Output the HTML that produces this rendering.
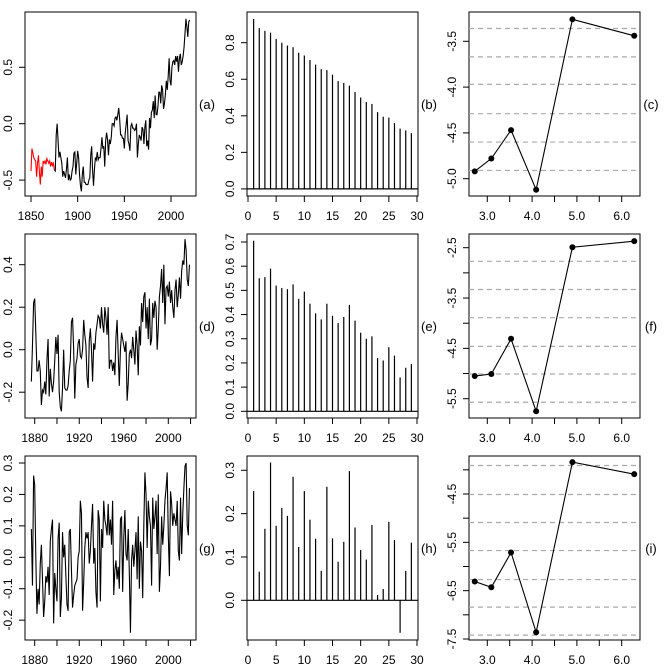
<!DOCTYPE html>
<html><head><meta charset="utf-8">
<style>
html,body{margin:0;padding:0;background:#fff;}
svg{display:block;font-family:"Liberation Sans",Arial,sans-serif;}
</style></head>
<body>
<svg id="fig" width="666" height="665" viewBox="0 0 666 665" xmlns="http://www.w3.org/2000/svg"></svg>
<script>
// ---- data ----
const aRedYears=[1850,1875];
const aRed=[-0.42,-0.22,-0.26,-0.30,-0.32,-0.33,-0.47,-0.35,-0.28,-0.43,-0.54,-0.38,-0.47,-0.33,-0.35,-0.33,-0.36,-0.31,-0.33,-0.35,-0.33,-0.38,-0.34,-0.37,-0.35,-0.41];
const aBlackStart=1876;
const aBlack=[-0.42,-0.10,0.00,-0.15,-0.30,-0.25,-0.30,-0.35,-0.47,-0.42,-0.45,-0.48,-0.40,-0.30,-0.50,-0.45,-0.50,-0.49,-0.42,-0.38,-0.26,-0.25,-0.45,-0.35,-0.24,-0.30,-0.45,-0.55,-0.60,-0.45,-0.38,-0.52,-0.52,-0.54,-0.54,-0.54,-0.50,-0.48,-0.28,-0.20,-0.42,-0.55,-0.40,-0.30,-0.32,-0.25,-0.32,-0.30,-0.30,-0.22,-0.12,-0.22,-0.20,-0.38,-0.15,-0.08,-0.14,-0.28,-0.14,-0.18,-0.12,0.00,0.00,-0.02,0.05,0.06,0.03,0.08,0.14,0.04,-0.10,-0.10,-0.13,-0.13,-0.22,-0.08,0.00,0.08,-0.15,-0.18,-0.24,-0.02,0.00,-0.04,-0.04,-0.06,-0.05,0.00,-0.30,-0.18,-0.10,-0.12,-0.15,-0.03,-0.05,-0.18,-0.03,0.03,-0.20,-0.15,-0.23,0.05,-0.04,0.10,0.12,0.20,0.05,0.25,0.08,0.08,0.15,0.28,0.28,0.18,0.34,0.30,0.13,0.18,0.26,0.38,0.30,0.42,0.58,0.38,0.34,0.50,0.55,0.56,0.52,0.60,0.55,0.60,0.46,0.58,0.62,0.52,0.55,0.60,0.68,0.80,0.93,0.86,0.77,0.90,0.92];
const dStart=1877;
const dVals=[-0.15,0.02,0.22,0.24,0.08,-0.10,-0.10,-0.05,-0.10,-0.26,-0.19,-0.20,-0.15,-0.21,-0.05,0.05,-0.22,-0.09,-0.16,-0.20,-0.15,-0.05,0.06,-0.02,0.07,-0.20,-0.27,-0.29,-0.18,0.00,-0.18,-0.19,-0.19,-0.17,-0.10,-0.05,0.13,0.15,0.00,-0.23,-0.07,-0.04,0.03,0.05,-0.03,-0.04,0.00,0.14,0.07,0.02,-0.13,-0.18,0.04,0.10,0.00,-0.15,0.03,0.00,0.08,0.12,0.16,0.15,0.10,0.20,0.12,0.08,0.20,0.15,0.07,0.20,-0.09,-0.05,-0.05,-0.10,-0.06,-0.12,0.06,0.14,-0.02,-0.17,0.00,0.08,0.05,0.02,-0.01,0.04,-0.24,-0.16,-0.02,0.00,-0.04,0.06,0.00,-0.07,0.09,0.02,-0.12,0.11,0.02,0.22,0.13,0.25,0.27,0.10,0.20,0.05,0.24,0.02,0.05,0.22,0.15,0.23,0.20,0.00,0.10,0.25,0.30,0.38,0.22,0.40,0.12,0.29,0.30,0.25,0.32,0.22,0.28,0.20,0.15,0.28,0.33,0.20,0.26,0.34,0.24,0.37,0.42,0.40,0.52,0.47,0.33,0.30,0.40];
const gStart=1877;
const gVals=[0.09,-0.09,0.26,0.23,0.00,-0.18,-0.10,-0.15,-0.02,0.04,-0.07,-0.19,-0.14,-0.06,-0.08,-0.03,-0.12,0.05,0.09,0.12,-0.21,-0.05,-0.10,-0.14,0.06,0.11,-0.19,-0.13,0.08,0.00,0.04,-0.06,-0.15,-0.17,0.08,0.09,-0.04,-0.16,-0.12,-0.09,-0.08,-0.07,0.00,0.02,0.18,0.14,-0.17,-0.08,0.03,0.08,0.06,0.08,-0.02,0.02,0.10,0.17,-0.02,0.03,-0.11,-0.16,0.15,0.12,-0.14,0.09,0.03,0.18,0.12,0.10,0.07,0.17,0.07,0.12,0.04,0.18,-0.12,-0.04,-0.01,-0.07,-0.03,-0.10,0.12,0.13,-0.11,0.06,0.15,0.01,-0.01,0.09,-0.05,-0.24,-0.01,0.04,-0.03,0.02,0.08,-0.07,0.13,-0.10,0.05,0.02,-0.13,0.10,0.27,0.20,0.03,0.18,0.13,0.10,-0.09,0.19,0.09,0.13,0.18,0.01,0.20,-0.11,-0.03,0.13,0.04,0.10,0.18,0.22,0.27,0.07,-0.06,0.21,0.17,0.10,0.14,0.12,0.10,0.18,0.02,-0.01,0.19,0.01,0.14,0.22,0.29,0.30,0.10,0.07,0.22];
const bAcf=[0.93,0.88,0.865,0.855,0.82,0.80,0.785,0.775,0.745,0.73,0.705,0.68,0.655,0.65,0.625,0.59,0.58,0.565,0.53,0.50,0.475,0.465,0.42,0.395,0.39,0.36,0.33,0.32,0.305];
const eAcf=[0.705,0.55,0.555,0.59,0.52,0.51,0.505,0.525,0.465,0.495,0.445,0.405,0.38,0.445,0.395,0.365,0.39,0.44,0.375,0.325,0.30,0.31,0.22,0.21,0.265,0.23,0.14,0.18,0.195];
const hAcf=[0.252,0.066,0.165,0.318,0.172,0.213,0.195,0.285,0.123,0.252,0.186,0.142,0.068,0.262,0.143,0.089,0.135,0.298,0.168,0.116,0.094,0.174,0.012,0.026,0.181,0.139,-0.075,0.068,0.133];
const pX=[2.72,3.09,3.53,4.09,4.90,6.28];
const cY=[-4.92,-4.78,-4.47,-5.12,-3.26,-3.44];
const fY=[-5.05,-5.01,-4.31,-5.75,-2.49,-2.37];
const iY=[-6.31,-6.43,-5.71,-7.36,-3.84,-4.09];
const cDash=[-3.36,-3.67,-3.97,-4.29,-4.60,-4.91];
const fDash=[-2.77,-3.33,-3.89,-4.46,-5.01,-5.57];
const iDash=[-3.91,-4.51,-5.09,-5.67,-6.27,-6.84,-7.42];
const cTicks=[-5,-4.5,-4,-3.5], cLabels=["-5.0","-4.5","-4.0","-3.5"];
const fTicks=[-5.5,-5,-4.5,-4,-3.5,-3,-2.5], fLabels=["-5.5","","-4.5","","-3.5","","-2.5"];
const iTicks=[-7.5,-7,-6.5,-6,-5.5,-5,-4.5,-4], iLabels=["-7.5","","-6.5","","-5.5","","-4.5",""];

// ---- helpers ----
const NS="http://www.w3.org/2000/svg";
const fig=document.getElementById('fig');
function el(tag,attrs,parent){const e=document.createElementNS(NS,tag);for(const k in attrs)e.setAttribute(k,attrs[k]);(parent||fig).appendChild(e);return e;}
function lin(v0,p0,v1,p1){return v=>p0+(v-v0)*(p1-p0)/(v1-v0);}
function panel(name,col,row){
  const ox=col*222, oy=[0,222,444][row];
  const g=el('g',{});
  
  
  const box={l:ox+25,r:ox+196,t:oy+12,b:oy+196};
  const r=el('rect',{x:box.l,y:box.t,width:box.r-box.l,height:box.b-box.t,fill:'none',stroke:'#000','stroke-width':1},g);
  
  
  return {g,box,ox,oy};
}
function xAxis(p,sx,ticks,labels){
  const ax=el('g',{},p.g);
  
  
  ticks.forEach((t,i)=>{
    const x=sx(t);
    el('line',{x1:x,x2:x,y1:p.box.b,y2:p.box.b+6,stroke:'#000'},ax);
    if(labels[i]){const tx=el('text',{x:x,y:p.box.b+24,'font-size':12,'text-anchor':'middle'},ax);tx.textContent=labels[i];
      
      }
  });
}
function yAxis(p,sy,ticks,labels){
  const ax=el('g',{},p.g);
  
  
  ticks.forEach((t,i)=>{
    const y=sy(t);
    el('line',{x1:p.box.l-6,x2:p.box.l,y1:y,y2:y,stroke:'#000'},ax);
    if(labels[i]){const x=p.box.l-13;const tx=el('text',{x:x,y:y,'font-size':12,'text-anchor':'middle',transform:`rotate(-90 ${x} ${y})`},ax);tx.textContent=labels[i];
      
      }
  });
}
function panelLabel(p,txt){
  const t=el('text',{x:p.ox+207,y:(p.box.t+p.box.b)/2+5,'font-size':13,'text-anchor':'middle'},p.g);
  t.textContent=txt;
  
  
}
function series(p,sx,sy,start,vals,color,name){
  const pts=vals.map((v,i)=>sx(start+i).toFixed(2)+','+sy(v).toFixed(2)).join(' ');
  const pl=el('polyline',{points:pts,fill:'none',stroke:color,'stroke-width':1.1},p.g);
  
  
}
function acf(p,sx,sy,vals){
  el('line',{x1:p.box.l,x2:p.box.r,y1:sy(0),y2:sy(0),stroke:'#000','stroke-width':1.2},p.g);
  vals.forEach((v,i)=>{
    const x=sx(i+1);
    const l=el('line',{x1:x,x2:x,y1:sy(0),y2:sy(v),stroke:'#000','stroke-width':1.2},p.g);
    
    
  });
}
function dots(p,sx,sy,xs,ys,dash){
  dash.forEach(d=>{
    const l=el('line',{x1:p.box.l,x2:p.box.r,y1:sy(d),y2:sy(d),stroke:'#aaa','stroke-width':1.2,'stroke-dasharray':'5,4'},p.g);
    
    
  });
  const pl=el('polyline',{points:xs.map((x,i)=>sx(x)+','+sy(ys[i])).join(' '),fill:'none',stroke:'#000','stroke-width':1.1},p.g);
  
  
  xs.forEach((x,i)=>{
    const c=el('circle',{cx:sx(x),cy:sy(ys[i]),r:3,fill:'#000'},p.g);
    
    
  });
}
const acfTicks=[0,5,10,15,20,25,30], acfLabels=acfTicks.map(String);
const logTicks=[3,3.5,4,4.5,5,5.5,6], logLabels=["3.0","","4.0","","5.0","","6.0"];

// (a)
let p=panel('panel-a',0,0);
let sx=lin(1850,31,2000,171), sy=lin(0,123.7,0.5,67.3);
xAxis(p,sx,[1850,1900,1950,2000],["1850","1900","1950","2000"]);
yAxis(p,sy,[-0.5,0,0.5],["-0.5","0.0","0.5"]);
series(p,sx,sy,aRedYears[0],aRed,'#ff0000','red-series');
series(p,sx,sy,aBlackStart-1,[aRed[aRed.length-1]].concat(aBlack),'#000','black-series');
panelLabel(p,'(a)');
// (b)
p=panel('panel-b',1,0);
sx=lin(0,248,30,417); sy=lin(0,188.9,0.8,42.7);
xAxis(p,sx,acfTicks,acfLabels);
yAxis(p,sy,[0,0.2,0.4,0.6,0.8],["0.0","0.2","0.4","0.6","0.8"]);
acf(p,sx,sy,bAcf); panelLabel(p,'(b)');
// (c)
p=panel('panel-c',2,0);
sx=lin(3,487.3,6,621.7); sy=lin(-3.5,41.3,-5,178.7);
xAxis(p,sx,logTicks,logLabels);
yAxis(p,sy,cTicks,cLabels);
dots(p,sx,sy,pX,cY,cDash); panelLabel(p,'(c)');
// (d)
p=panel('panel-d',0,1);
sx=lin(1880,34.7,2000,168.3); sy=lin(0,349.7,0.4,264.7);
xAxis(p,sx,[1880,1900,1920,1940,1960,1980,2000,2020],["1880","","1920","","1960","","2000",""]);
yAxis(p,sy,[-0.2,0,0.2,0.4],["-0.2","0.0","0.2","0.4"]);
series(p,sx,sy,dStart,dVals,'#000','series-d'); panelLabel(p,'(d)');
// (e)
p=panel('panel-e',1,1);
sx=lin(0,248,30,417); sy=lin(0,411.3,0.7,242);
xAxis(p,sx,acfTicks,acfLabels);
yAxis(p,sy,[0,0.1,0.2,0.3,0.4,0.5,0.6,0.7],["0.0","0.1","0.2","0.3","0.4","0.5","0.6","0.7"]);
acf(p,sx,sy,eAcf); panelLabel(p,'(e)');
// (f)
p=panel('panel-f',2,1);
sx=lin(3,487.3,6,621.7); sy=lin(-2.5,247.7,-5.5,398.7);
xAxis(p,sx,logTicks,logLabels);
yAxis(p,sy,fTicks,fLabels);
dots(p,sx,sy,pX,fY,fDash); panelLabel(p,'(f)');
// (g)
p=panel('panel-g',0,2);
sx=lin(1880,34.7,2000,168.3); sy=lin(0,557.3,0.3,463);
xAxis(p,sx,[1880,1900,1920,1940,1960,1980,2000,2020],["1880","","1920","","1960","","2000",""]);
yAxis(p,sy,[-0.2,-0.1,0,0.1,0.2,0.3],["-0.2","-0.1","0.0","0.1","0.2","0.3"]);
series(p,sx,sy,gStart,gVals,'#000','series-g'); panelLabel(p,'(g)');
// (h)
p=panel('panel-h',1,2);
sx=lin(0,248,30,417); sy=lin(0,600.3,0.3,470.3);
xAxis(p,sx,acfTicks,acfLabels);
yAxis(p,sy,[0,0.1,0.2,0.3],["0.0","0.1","0.2","0.3"]);
acf(p,sx,sy,hAcf); panelLabel(p,'(h)');
// (i)
p=panel('panel-i',2,2);
sx=lin(3,487.3,6,621.7); sy=lin(-4.5,494,-7.5,639);
xAxis(p,sx,logTicks,logLabels);
yAxis(p,sy,iTicks,iLabels);
dots(p,sx,sy,pX,iY,iDash); panelLabel(p,'(i)');
</script>
</body></html>
